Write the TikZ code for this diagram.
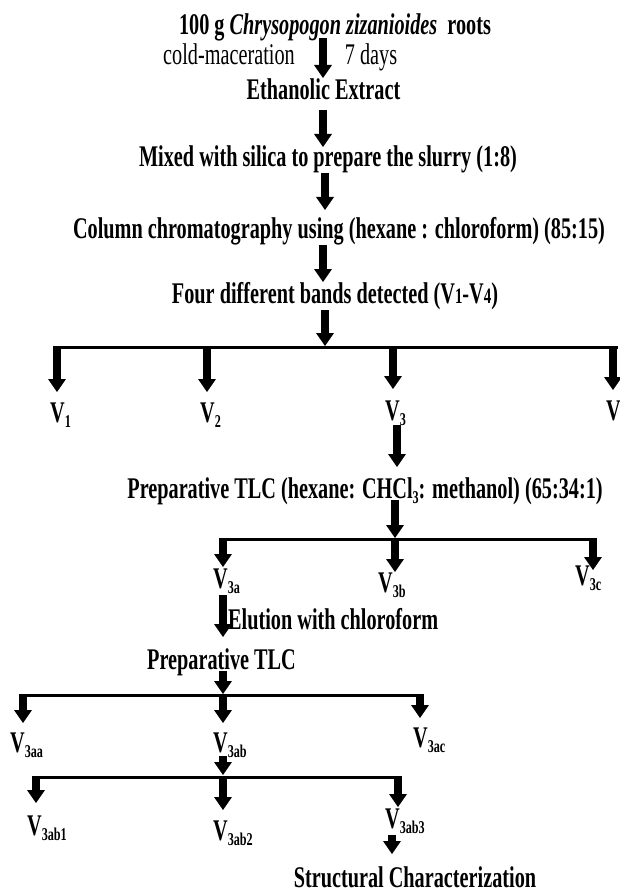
\documentclass[tikz,border=0pt]{standalone}
\usepackage{fontspec}
\setmainfont[FakeStretch=0.675]{Liberation Serif}
\usetikzlibrary{arrows.meta}
\newcommand\subsm[1]{\raisebox{-5pt}{\fontsize{18}{18}\selectfont #1}}
\newcommand\vlab[1]{V\subsm{#1}}
\newcommand\insz[1]{{\fontsize{22}{22}\selectfont #1}}
\begin{document}
\begin{tikzpicture}[x=1pt,y=-1pt,
  txt/.style={font=\bfseries\fontsize{30}{33}\selectfont, inner sep=0pt, anchor=base},
  reg/.style={font=\fontsize{30}{33}\selectfont, inner sep=0pt, anchor=base},
  vl/.style={txt, anchor=base west},
  bigarr/.style={line width=8pt, -{Triangle[width=18pt,length=13pt,line width=0pt]}},
  hline/.style={line width=3pt}]
\useasboundingbox (0,0) rectangle (620,893);

% text nodes
\node[txt] (title) at (335,35) {100 g \textit{Chrysopogon zizanioides}\ \ roots};
\node[reg] (cold) at (229,65) {cold-maceration};
\node[reg] (days) at (371,65) {7 days};
\node[txt] (eth) at (323.5,100) {Ethanolic Extract};
\node[txt] (mix) at (328,167) {Mixed with silica to prepare the slurry (1:8)};
\node[txt] (col) at (339,239) {Column\ chromatography using (hexane : chloroform) (85:15)};
\node[txt] (four) at (335,303) {Four different bands detected (V\insz{1}-V\insz{4})};
\node[vl] (v1) at (50,422) {\vlab{1}};
\node[vl] (v2) at (200,422) {\vlab{2}};
\node[vl] (v3) at (385,420) {\vlab{3}};
\node[vl] (v4) at (606,420) {\vlab{4}};
\node[txt] (prep1) at (365,498) {Preparative\,TLC (hexane: CHCl\subsm{3}: methanol) (65:34:1)};
\node[vl] (v3a) at (213,588) {\vlab{3a}};
\node[vl] (v3b) at (378,592) {\vlab{3b}};
\node[vl] (v3c) at (575,585) {\vlab{3c}};
\node[txt, anchor=base west] (elu) at (228,629) {Elution with chloroform};
\node[txt] (prep2) at (221.5,669) {Preparative\,TLC};
\node[vl] (v3aa) at (10,752) {\vlab{3aa}};
\node[vl] (v3ab) at (213,752) {\vlab{3ab}};
\node[vl] (v3ac) at (413,747) {\vlab{3ac}};
\node[vl] (v3ab1) at (27,835) {\vlab{3ab1}};
\node[vl] (v3ab2) at (213,840) {\vlab{3ab2}};
\node[vl] (v3ab3) at (385,828) {\vlab{3ab3}};
\node[txt] (struct) at (415,887) {Structural Characterization};

% connector end points
\coordinate (a1s) at (323,38);  \coordinate (a1e) at (323,78);
\coordinate (a2s) at (323,110); \coordinate (a2e) at (323,147);
\coordinate (a3s) at (325,173); \coordinate (a3e) at (325,210);
\coordinate (a4s) at (323,245); \coordinate (a4e) at (323,282);
\coordinate (a5s) at (325,310); \coordinate (a5e) at (325,346);
\coordinate (l1a) at (53,347);  \coordinate (l1b) at (618,347);
\coordinate (b1) at (57,346);   \coordinate (b1e) at (57,392);
\coordinate (b2) at (207,346);  \coordinate (b2e) at (207,392);
\coordinate (b3) at (393,346);  \coordinate (b3e) at (393,389);
\coordinate (b4) at (613,346);  \coordinate (b4e) at (613,390);
\coordinate (a6s) at (397,425); \coordinate (a6e) at (397,467);
\coordinate (a7s) at (395,500); \coordinate (a7e) at (395,538);
\coordinate (l2a) at (220,539); \coordinate (l2b) at (597,539);
\coordinate (c1) at (223,538);  \coordinate (c1e) at (223,567);
\coordinate (c2) at (395,538);  \coordinate (c2e) at (395,572);
\coordinate (c3) at (593,538);  \coordinate (c3e) at (593,570);
\coordinate (a8s) at (223,595); \coordinate (a8e) at (223,637);
\coordinate (a9s) at (223,671); \coordinate (a9e) at (223,694);
\coordinate (l3a) at (19,695);  \coordinate (l3b) at (423,695);
\coordinate (d1) at (23,694);   \coordinate (d1e) at (23,723);
\coordinate (d2) at (223,694);  \coordinate (d2e) at (223,723);
\coordinate (d3) at (420,694);  \coordinate (d3e) at (420,718);
\coordinate (a10s) at (223,756); \coordinate (a10e) at (223,775);
\coordinate (l4a) at (32,777);  \coordinate (l4b) at (401,777);
\coordinate (e1) at (36,776);   \coordinate (e1e) at (36,803);
\coordinate (e2) at (223,776);  \coordinate (e2e) at (223,810);
\coordinate (e3) at (398,776);  \coordinate (e3e) at (398,807);
\coordinate (a11s) at (392,835); \coordinate (a11e) at (392,854);

% vertical arrows
\draw[bigarr] (a1s) -- (a1e);
\draw[bigarr] (a2s) -- (a2e);
\draw[bigarr] (a3s) -- (a3e);
\draw[bigarr] (a4s) -- (a4e);
\draw[bigarr] (a5s) -- (a5e);
\draw[bigarr] (a6s) -- (a6e);
\draw[bigarr] (a7s) -- (a7e);
\draw[bigarr] (a8s) -- (a8e);
\draw[bigarr] (a9s) -- (a9e);
\draw[bigarr] (a10s) -- (a10e);
\draw[bigarr] (a11s) -- (a11e);

% branch lines and branch arrows
\draw[hline] (l1a) -- (l1b);
\foreach \p in {b1,b2,b3,b4} \draw[bigarr] (\p) -- (\p e);
\draw[hline] (l2a) -- (l2b);
\foreach \p in {c1,c2,c3} \draw[bigarr] (\p) -- (\p e);
\draw[hline] (l3a) -- (l3b);
\foreach \p in {d1,d2,d3} \draw[bigarr] (\p) -- (\p e);
\draw[hline] (l4a) -- (l4b);
\foreach \p in {e1,e2,e3} \draw[bigarr] (\p) -- (\p e);
\end{tikzpicture}
\end{document}
